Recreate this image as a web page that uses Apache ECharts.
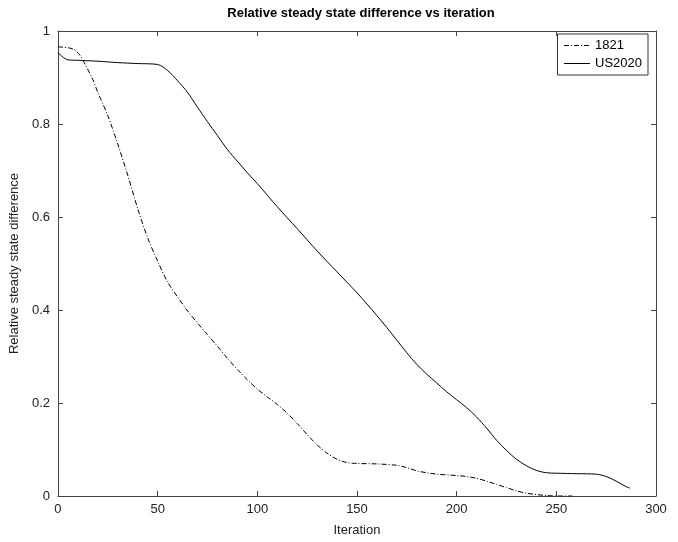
<!DOCTYPE html>
<html>
<head>
<meta charset="utf-8">
<script src="https://cdn.jsdelivr.net/npm/echarts@6/dist/echarts.min.js"></script>
<style>
  html, body { margin: 0; padding: 0; background: #fff; }
  #chart { width: 678px; height: 542px; }
</style>
</head>
<body>
<div id="chart"></div>
<script>
// data
const iter1821 = [0, 5, 8, 11, 14, 17, 20, 25, 30, 35, 40, 45, 50, 55, 60, 65, 70, 75, 80, 85,
  90, 95, 100, 105, 110, 115, 120, 125, 130, 135, 140, 145, 150, 160, 170, 175, 180, 185, 190,
  200, 205, 210, 215, 220, 225, 230, 235, 240, 245, 250, 258];
const diff1821 = [0.966, 0.964, 0.960, 0.948, 0.925, 0.900, 0.868, 0.818, 0.757, 0.690, 0.618,
  0.555, 0.505, 0.460, 0.428, 0.398, 0.372, 0.347, 0.322, 0.296, 0.272, 0.250, 0.230, 0.213,
  0.197, 0.178, 0.156, 0.132, 0.110, 0.092, 0.079, 0.072, 0.070, 0.069, 0.066, 0.061, 0.054,
  0.050, 0.047, 0.044, 0.042, 0.038, 0.032, 0.025, 0.018, 0.011, 0.006, 0.003, 0.001, 0, 0];

const iterUS = [0, 5, 10, 20, 30, 40, 50, 55, 60, 65, 70, 75, 80, 85, 90, 95, 100, 110, 120, 130,
  140, 150, 155, 160, 165, 170, 175, 180, 185, 190, 195, 200, 205, 210, 215, 220, 225, 230, 235,
  240, 245, 250, 260, 270, 275, 280, 285, 287];
const diffUS = [0.953, 0.938, 0.937, 0.935, 0.932, 0.930, 0.928, 0.915, 0.893, 0.868, 0.836,
  0.805, 0.775, 0.745, 0.720, 0.695, 0.672, 0.622, 0.575, 0.527, 0.482, 0.437, 0.413, 0.388,
  0.362, 0.335, 0.308, 0.283, 0.262, 0.243, 0.224, 0.207, 0.190, 0.170, 0.146, 0.120, 0.098,
  0.079, 0.065, 0.055, 0.050, 0.049, 0.048, 0.047, 0.042, 0.032, 0.020, 0.017];

const xTicks = [0, 50, 100, 150, 200, 250, 300];

const font = 'Liberation Sans, Arial, Helvetica, sans-serif';
const axisColor = '#444';

function pairs(xs, ys) {
  return xs.map((x, i) => [x, ys[i]]);
}

// box-style axis: ticks inside, no grid lines
function boxAxis(extra) {
  return Object.assign({
    axisLine: { show: true, onZero: false, lineStyle: { color: axisColor, width: 1 } },
    axisTick: { show: true, inside: true, length: 5, lineStyle: { color: axisColor } },
    splitLine: { show: false },
    axisLabel: { show: false }
  }, extra);
}

const chart = echarts.init(document.getElementById('chart'));

chart.setOption({
  animation: false,
  backgroundColor: '#fff',
  title: {
    text: 'Relative steady state difference vs iteration',
    left: 356,
    textAlign: 'center',
    top: 2,
    textStyle: { fontFamily: font, fontSize: 13, fontWeight: 'bold', color: '#000' }
  },
  grid: { left: 56, right: 22, top: 31, bottom: 43, containLabel: false },
  legend: {
    orient: 'vertical',
    right: 30,
    top: 34,
    padding: [5, 6, 5, 6],
    itemGap: 5,
    itemWidth: 26,
    itemHeight: 14,
    borderColor: '#333',
    borderWidth: 1,
    backgroundColor: '#fff',
    itemStyle: { opacity: 0 },
    lineStyle: { width: 1 },
    textStyle: { fontFamily: font, fontSize: 13, color: '#000' },
    data: ['1821', 'US2020']
  },
  xAxis: [
    boxAxis({
      type: 'value', position: 'bottom', min: 0, max: 300, interval: 50,
      name: 'Iteration', nameLocation: 'middle', nameGap: 28,
      nameTextStyle: { fontFamily: font, fontSize: 13, color: '#222' },
      axisLabel: {
        show: true, fontFamily: font, fontSize: 13, color: '#222', margin: 7,
        formatter: v => (xTicks.indexOf(v) >= 0 ? String(v) : '')
      }
    }),
    boxAxis({ type: 'value', position: 'top', min: 0, max: 300, interval: 50 })
  ],
  yAxis: [
    boxAxis({
      type: 'value', position: 'left', min: 0, max: 1, interval: 0.2,
      name: 'Relative steady state difference', nameLocation: 'middle', nameGap: 31,
      nameTextStyle: { fontFamily: font, fontSize: 13, color: '#222' },
      axisLabel: {
        show: true, fontFamily: font, fontSize: 13, color: '#222', margin: 8,
        formatter: v => String(Math.round(v * 10) / 10)
      }
    }),
    boxAxis({ type: 'value', position: 'right', min: 0, max: 1, interval: 0.2 })
  ],
  series: [
    {
      name: '1821',
      type: 'line',
      symbol: 'none',
      smooth: 0.3,
      data: pairs(iter1821, diff1821),
      lineStyle: { color: '#000', width: 1, type: [5, 2, 1, 2] },
      itemStyle: { color: '#000' },
      z: 3
    },
    {
      name: 'US2020',
      type: 'line',
      symbol: 'none',
      smooth: 0.3,
      data: pairs(iterUS, diffUS),
      lineStyle: { color: '#000', width: 1, type: 'solid' },
      itemStyle: { color: '#000' },
      z: 3
    }
  ]
});
</script>
</body>
</html>
